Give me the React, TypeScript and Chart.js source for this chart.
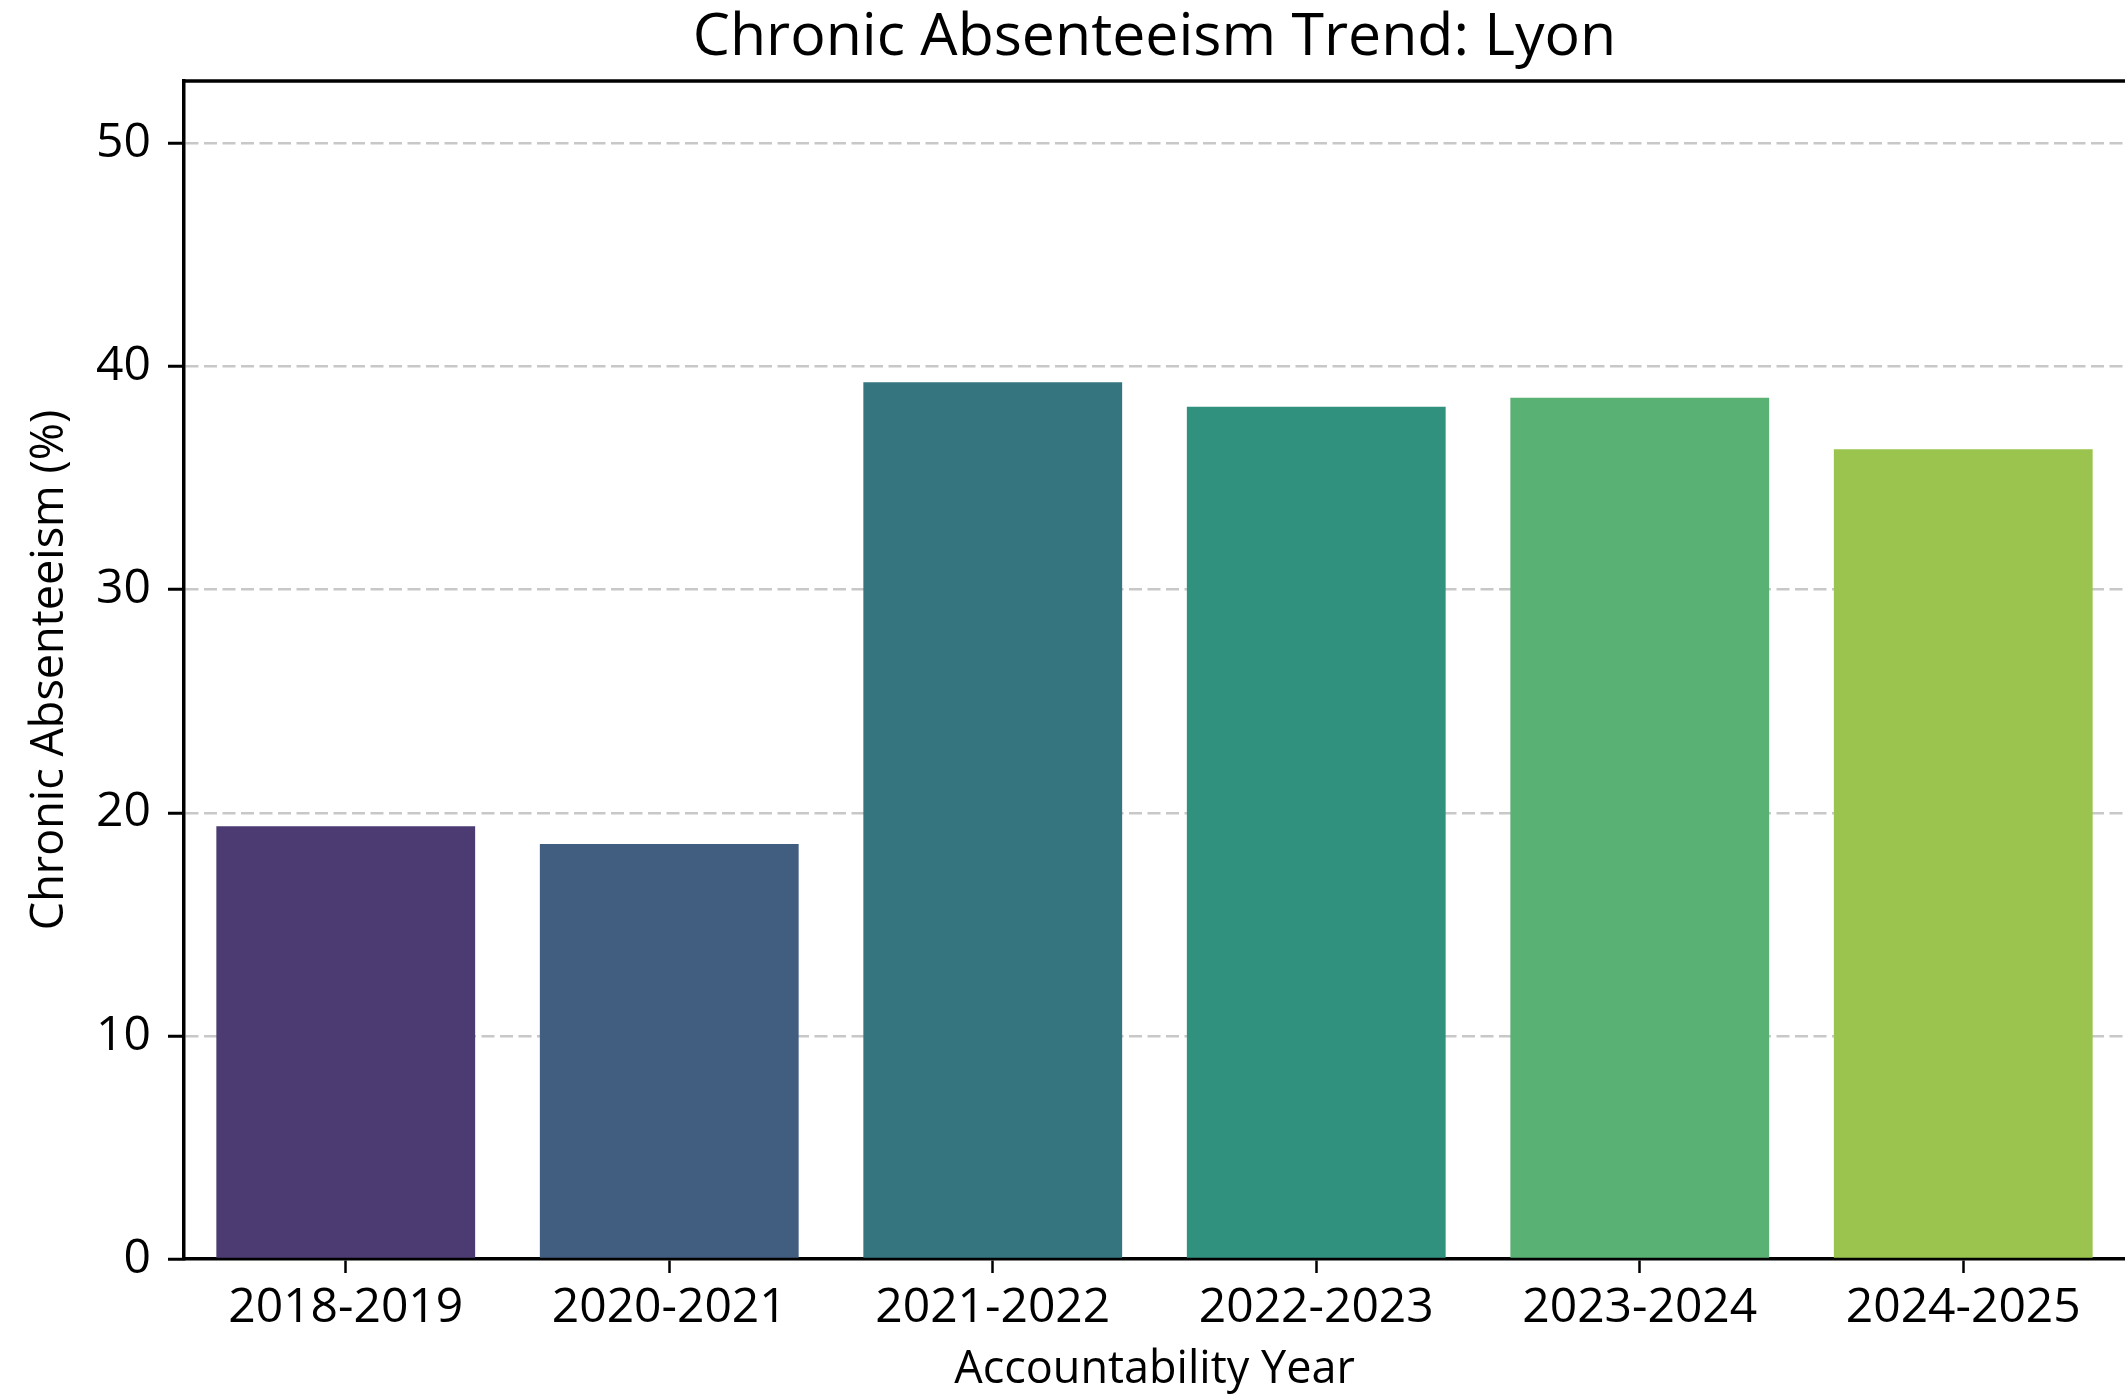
import React, { useEffect, useRef } from "react";
import { Chart, registerables } from "chart.js";

Chart.register(...registerables);

const categories = ["2018-2019", "2020-2021", "2021-2022", "2022-2023", "2023-2024", "2024-2025"];
const absenteeism = [19.4, 18.6, 39.3, 38.2, 38.6, 36.3];
const barColors = ["#4b3b72", "#415e80", "#357580", "#31917f", "#5ab174", "#9ac44d"];
const yMin = 0;
const yMax = 52.8;
const yStep = 10;
const titleText = "Chronic Absenteeism Trend: Lyon";
const xTitleText = "Accountability Year";
const yTitleText = "Chronic Absenteeism (%)";

const FONT = '"Open Sans", "Noto Sans", sans-serif';

const framePlugin = {
  id: "frame",
  afterLayout(chart: any) {
    const t = chart.titleBlock;
    if (t) {
      t.left = chart.chartArea.left;
      t.right = chart.chartArea.right;
      t.width = t.right - t.left;
    }
  },
  afterDraw(chart: any) {
    const { ctx, chartArea } = chart;
    ctx.save();
    ctx.strokeStyle = "#000";
    ctx.lineWidth = 3.5;
    ctx.beginPath();
    ctx.moveTo(chartArea.left - 1.75, chartArea.top);
    ctx.lineTo(chartArea.right, chartArea.top);
    ctx.stroke();
    ctx.restore();
  },
};

export default function App() {
  const ref = useRef<HTMLCanvasElement | null>(null);

  useEffect(() => {
    if (!ref.current) return;
    Chart.defaults.font.family = FONT;
    Chart.defaults.color = "#000";
    const chart = new Chart(ref.current, {
      type: "bar",
      data: {
        labels: categories,
        datasets: [
          {
            data: absenteeism,
            backgroundColor: barColors,
            borderWidth: 0,
            barPercentage: 0.8,
            categoryPercentage: 1,
          },
        ],
      },
      plugins: [framePlugin],
      options: {
        animation: false,
        responsive: false,
        devicePixelRatio: 1,
        layout: { padding: { left: 0, right: -9, top: 0, bottom: 0 } },
        plugins: {
          legend: { display: false },
          tooltip: { enabled: false },
          title: {
            display: true,
            text: titleText,
            color: "#000",
            font: { size: 59, weight: "normal", family: FONT, lineHeight: 1.2 },
            padding: { top: 3, bottom: 7.2 },
            align: "center",
          },
        },
        scales: {
          x: {
            z: 2,
            offset: true,
            grid: {
              display: true,
              drawOnChartArea: false,
              drawTicks: true,
              offset: false,
              tickLength: 14,
              tickColor: "#000",
              tickWidth: 2.5,
            },
            border: { display: true, color: "#000", width: 3.5 },
            ticks: {
              color: "#000",
              padding: 7,
              font: { size: 48, family: FONT, lineHeight: 1.2 },
              maxRotation: 0,
              autoSkip: false,
            },
            title: {
              display: true,
              text: xTitleText,
              color: "#000",
              font: { size: 45, family: FONT, lineHeight: 1.2 },
              padding: { top: 0, bottom: -1.5 },
            },
            afterFit(scale: any) {
              scale.height = 137;
            },
          },
          y: {
            z: 1,
            min: yMin,
            max: yMax,
            grid: {
              display: true,
              drawOnChartArea: true,
              drawTicks: true,
              tickLength: 16,
              tickColor: "#000",
              tickWidth: 3,
              lineWidth: 2.5,
              color: (ctx: any) =>
                ctx.tick && ctx.tick.value === 0 ? "rgba(0,0,0,0)" : "rgba(176,176,176,0.7)",
            },
            border: { display: true, color: "#000", width: 3.5, dash: [13, 5.5] },
            ticks: {
              stepSize: yStep,
              includeBounds: false,
              color: "#000",
              padding: 17,
              font: { size: 48, family: FONT, lineHeight: 1.2 },
            },
            title: {
              display: true,
              text: yTitleText,
              color: "#000",
              font: { size: 45, family: FONT, lineHeight: 1.2 },
              padding: { top: 23, bottom: 0 },
            },
            afterFit(scale: any) {
              scale.width = 184;
            },
          },
        },
      },
    } as any);
    return () => chart.destroy();
  }, []);

  return (
    <div style={{ position: "fixed", left: 0, top: 0, width: 2125, height: 1396, background: "#fff" }}>
      <canvas ref={ref} width={2125} height={1396} style={{ display: "block" }} />
    </div>
  );
}
